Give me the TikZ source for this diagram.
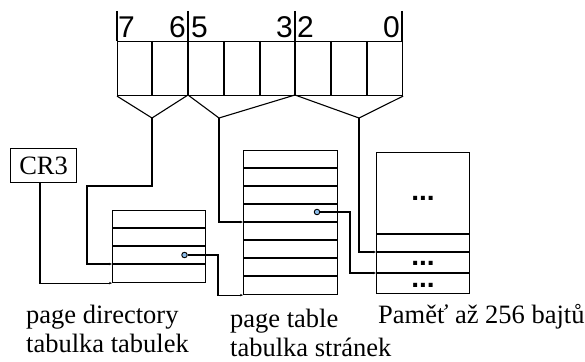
\documentclass[tikz,border=0pt]{standalone}
\usepackage{fontspec}
\setmainfont{Liberation Serif}
\newfontfamily\digitfont{Liberation Sans}
\newfontfamily\dotfont{Liberation Sans}
\usetikzlibrary{arrows.meta}
\definecolor{dotblue}{HTML}{8CBDEB}
\begin{document}
\begin{tikzpicture}[x=1pt,y=-1pt,
  ln/.style={line width=1.1pt,black},
  box/.style={draw,line width=1.1pt,rectangle,inner sep=0pt,anchor=north west},
  conn/.style={line width=1.1pt,-{Stealth[length=3pt,width=2.4pt]}},
  bitnum/.style={inner sep=0pt,font=\digitfont\fontsize{30}{30}\selectfont},
  lbl/.style={inner sep=0pt,anchor=base west,font=\fontsize{26.5}{29}\selectfont},
  ellip/.style={inner sep=0pt,anchor=base,font=\dotfont\bfseries\fontsize{28}{28}\selectfont},
  ptr/.style={circle,draw,line width=0.9pt,fill=dotblue,minimum size=5.5pt,inner sep=0pt}]
\useasboundingbox (0,0) rectangle (585,361);
% register
\node[box,minimum width=285pt,minimum height=54pt] (reg) at (117,41) {};
\foreach \x in {152,188,224,260,295,331,367}{\draw[ln] (\x,41) -- (\x,95);}
\foreach \x in {117,188,295,402}{\draw[ln] (\x,11) -- (\x,41);}
\node[bitnum,anchor=base west] (b7) at (118,37.5) {7};
\node[bitnum,anchor=base east] (b6) at (186,37.5) {6};
\node[bitnum,anchor=base west] (b5) at (191,37.5) {5};
\node[bitnum,anchor=base east] (b3) at (293,37.5) {3};
\node[bitnum,anchor=base west] (b2) at (297,37.5) {2};
\node[bitnum,anchor=base east] (b0) at (400,37.5) {0};
% funnels
\coordinate (f1) at (152,118);
\coordinate (f2) at (219,118);
\coordinate (f3) at (359,118);
\draw[ln] (reg.south west) -- (f1) -- (188,95) -- (f2) -- (295,95) -- (f3) -- (reg.south east);
% CR3
\node[box,minimum width=66pt,minimum height=34pt] (cr3) at (10,148) {};
\node[inner sep=0pt,font=\fontsize{26.5}{26.5}\selectfont] (cr3t) at (cr3.center) {CR3};
% page directory
\node[box,minimum width=93pt,minimum height=72pt] (pd) at (112,210) {};
\foreach \y in {228,246,264}{\draw[ln] (112,\y) -- (205,\y);}
% page table
\node[box,minimum width=94pt,minimum height=144pt] (pt) at (243,150) {};
\foreach \y in {168,186,204,222,240,258,276}{\draw[ln] (243,\y) -- (337,\y);}
% memory
\node[box,minimum width=93pt,minimum height=141pt] (mem) at (376,152) {};
\foreach \y in {234,252,273}{\draw[ln] (376,\y) -- (469,\y);}
\node[ellip] (m1) at (423,200) {...};
\node[ellip] (m2) at (423,265) {...};
\node[ellip] (m3) at (423,287) {...};
% pointers
\node[ptr] (d1) at (184.5,255) {};
\node[ptr] (d2) at (317,212) {};
% connectors
\coordinate (pdin) at (112,264);
\coordinate (ptin) at (243,222);
\coordinate (memin) at (376,252);
\coordinate (memin2) at (376,273);
\coordinate (cr3out) at (40,182);
\draw[conn] (f1) -- (152,186) -- (87,186) |- (pdin);
\draw[conn] (cr3out) |- (pd.south west);
\draw[conn] (f2) |- (ptin);
\draw[conn] (f3) |- (memin);
\draw[conn] (d1.east) -- (218,255) |- (pt.south west);
\draw[conn] (d2.east) -- (350,212) |- (memin2);
% labels
\node[lbl] (l1) at (26,323.5) {page directory};
\node[lbl] (l2) at (26,352.5) {tabulka tabulek};
\node[lbl] (l3) at (230,327.5) {page table};
\node[lbl] (l4) at (230,356.5) {tabulka stránek};
\node[lbl] (l5) at (378,323.5) {Paměť až 256 bajtů};
\end{tikzpicture}
\end{document}
